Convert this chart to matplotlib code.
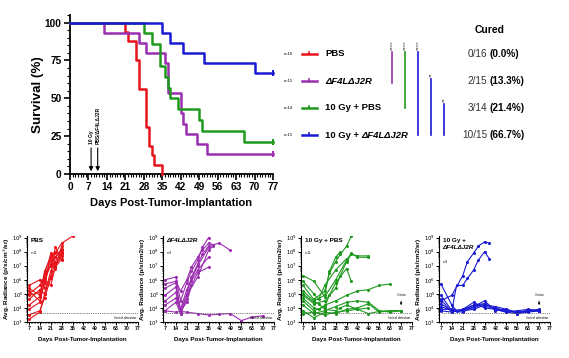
import numpy as np
import matplotlib.pyplot as plt
from matplotlib.ticker import MultipleLocator, FixedLocator, LogLocator, NullFormatter, FuncFormatter

plt.rcParams['font.family'] = ['Liberation Sans', 'DejaVu Sans']

# colours
red = '#e8141c'
purple = '#9a2fb0'
green = '#1f9a1f'
blue = '#1a1ad2'

# ---- survival data (days of death, % surviving after each event) ----
pbs_t = [21, 22, 25, 26, 29, 30, 31, 32, 35]
pbs_s = [93.75, 87.5, 75, 56.25, 31.25, 18.75, 12.5, 6.25, 0]
vv_t = [13, 26, 29, 36, 37, 42, 43, 44, 48, 52]
vv_s = [93.3, 86.7, 80, 73.3, 53.3, 40, 33.3, 26.7, 20, 13.3]
rt_t = [28, 31, 34, 36, 37, 38, 41, 49, 50, 66]
rt_s = [92.9, 85.7, 71.4, 64.3, 57.1, 50, 42.9, 35.7, 28.6, 21.4]
combo_t = [35, 38, 43, 51, 70]
combo_s = [93.3, 86.7, 80, 73.3, 66.7]

virus = 'ΔF4LΔJ2R'
group_prefix = ['PBS', '', '10 Gy + PBS', '10 Gy + ']
group_virus = ['', virus, '', virus]
group_n = [16, 15, 14, 15]
cured_frac = ['0/16', '2/15', '3/14', '10/15']
cured_pct = ['(0.0%)', '(13.3%)', '(21.4%)', '(66.7%)']
x_ticks = list(range(0, 78, 7))

# ---- tumour radiance (log10 p/s/cm2/sr) per mouse ----
pbs_days = [[7, 14, 21, 24, 28, 35], [7, 14, 17, 21, 24, 28], [7, 14, 17, 21, 24, 28],
            [7, 14, 17, 21, 24, 28], [7, 14, 17, 21, 24, 28], [7, 14, 17, 21, 24, 28],
            [7, 14, 17, 21, 24, 28], [7, 14, 17, 21, 24, 28], [7, 14, 17, 21, 24, 28],
            [7, 14, 17, 21, 24, 28]]
pbs_vals = [[5.0, 5.6, 7.0, 7.9, 8.6, 9.1], [4.2, 4.8, 6.4, 7.8, 7.6, 8.2], [3.2, 3.7, 5.0, 6.3, 7.3, 8.0],
            [5.2, 4.5, 5.9, 7.1, 8.3, 7.4], [4.6, 5.3, 5.0, 6.6, 7.6, 8.1], [5.6, 6.0, 5.4, 7.9, 7.0, 7.7],
            [3.9, 4.4, 5.8, 5.6, 7.0, 7.9], [4.9, 5.1, 6.1, 7.4, 6.8, 8.4], [3.5, 3.8, 4.7, 6.1, 6.9, 7.5],
            [5.4, 4.9, 6.6, 7.6, 8.0, 7.8]]

vv_days = [[7, 14, 17, 21, 24, 28, 31, 35], [7, 14, 17, 21, 24, 28, 31, 35, 38],
           [7, 14, 17, 21, 28, 35, 38, 42, 49], [7, 14, 17, 21, 24, 28, 31, 35],
           [7, 14, 17, 21, 24, 28, 35], [7, 14, 17, 21, 24, 28, 35], [7, 14, 17, 21, 28, 35, 38],
           [7, 14, 17, 21, 28, 35, 42, 49, 56, 63, 70]]
vv_vals = [[6.0, 6.2, 4.5, 5.8, 6.6, 7.4, 8.3, 9.0], [5.7, 5.9, 5.2, 6.0, 6.9, 7.6, 8.1, 8.6, 8.5],
           [5.4, 5.8, 3.9, 5.3, 7.0, 8.3, 8.5, 8.6, 8.1], [4.9, 5.5, 3.7, 5.0, 6.2, 7.1, 7.8, 8.4],
           [4.5, 5.1, 3.6, 4.6, 5.9, 6.7, 7.6], [4.2, 4.7, 3.8, 4.4, 5.6, 6.5, 6.9],
           [3.8, 4.4, 3.6, 4.9, 6.2, 8.1, 8.4],
           [3.8, 3.7, 3.75, 3.7, 3.6, 3.5, 3.55, 3.6, 3.1, 3.35, 3.45]]

rt_days = [[7, 14, 21, 24, 28, 31, 35, 38], [7, 14, 21, 24, 28, 31], [7, 14, 21, 28, 35, 38, 42, 49],
           [7, 14, 21, 28, 31, 35, 38, 42, 49], [7, 14, 21, 24, 28, 35, 38],
           [7, 14, 17, 21, 28, 35, 42, 49, 56, 63], [7, 14, 17, 21, 28, 31, 35, 42, 49],
           [7, 14, 21, 28, 35, 42, 49, 56, 63, 70], [7, 14, 21, 28, 35, 42, 49, 56, 63, 70],
           [7, 14, 17, 21, 28, 35], [7, 14, 21, 28, 35, 42, 49, 56, 63, 70]]
rt_vals = [[5.6, 4.6, 5.2, 6.5, 7.3, 7.8, 8.4, 9.1], [5.2, 4.5, 4.9, 6.6, 7.6, 8.0],
           [6.3, 5.9, 4.8, 6.0, 7.4, 7.9, 7.6, 7.6], [4.9, 4.3, 4.5, 5.4, 6.3, 7.3, 7.8, 7.7, 7.7],
           [4.5, 3.8, 4.1, 4.9, 5.8, 6.8, 5.9], [4.7, 4.0, 3.9, 4.2, 4.5, 4.9, 5.2, 5.3, 5.6, 5.7],
           [5.0, 4.4, 4.3, 3.9, 3.8, 4.0, 4.2, 3.9, 4.0], [4.2, 3.6, 3.8, 4.1, 4.4, 4.5, 4.4, 3.8, 3.7, 3.8],
           [3.8, 3.3, 3.7, 3.6, 3.9, 4.0, 4.3, 3.7, 3.8, 3.8], [5.9, 5.0, 4.6, 5.6, 6.7, 7.5],
           [3.6, 3.7, 3.5, 3.7, 3.8, 3.9, 3.6, 3.75, 3.8, 3.8]]

combo_days = [[7, 14, 21, 24, 28, 31, 35, 38], [7, 14, 17, 21, 24, 28, 31, 35, 38],
              [7, 14, 17, 21, 28, 35, 42, 49, 56, 63, 70], [7, 14, 21, 28, 35, 42, 49, 56, 63, 70],
              [7, 14, 21, 28, 35, 42, 49, 56, 63, 70], [7, 14, 21, 28, 35, 42, 49, 56, 63, 70],
              [7, 14, 21, 28, 35, 42, 49, 56, 63, 70], [7, 14, 21, 28, 35, 42, 49, 56, 63, 70]]
combo_vals = [[4.5, 4.9, 6.3, 7.3, 7.9, 8.4, 8.7, 8.6], [4.9, 3.8, 5.6, 5.6, 6.1, 6.7, 7.4, 8.0, 7.5],
              [5.7, 4.2, 3.8, 3.9, 4.2, 4.3, 3.9, 3.8, 3.7, 3.8, 3.8],
              [4.6, 3.7, 3.9, 4.4, 4.0, 3.9, 3.7, 3.6, 3.7, 3.8],
              [4.3, 3.8, 3.7, 4.1, 4.5, 3.8, 3.9, 3.7, 3.8, 3.9],
              [3.9, 3.9, 3.8, 4.2, 4.1, 4.0, 3.8, 3.7, 3.8, 3.8],
              [3.8, 3.7, 3.9, 4.0, 4.3, 3.9, 3.7, 3.8, 3.9, 3.8],
              [4.1, 3.8, 3.8, 3.9, 4.2, 4.1, 3.9, 3.6, 3.8, 3.8]]
limit_log = 3.65
panel_titles = ['PBS', '', '10 Gy + PBS', '10 Gy +']
panel_virus = ['', virus, '', virus]
panel_n = ['n=11', 'n=8', 'n=11', 'n=8']

W, H = 569, 358
fig = plt.figure(figsize=(W / 100, H / 100), dpi=100)

# overlay in pixel coords for legend / cured / stats
ov = fig.add_axes([0, 0, 1, 1])
ov.set_xlim(0, W)
ov.set_ylim(H, 0)
ov.axis('off')

# ---------------- survival plot ----------------
ax = fig.add_axes([70 / W, 1 - 174 / H, 203 / W, 159 / H])
colors = [red, purple, green, blue]
for t, s, c in zip([pbs_t, vv_t, rt_t, combo_t], [pbs_s, vv_s, rt_s, combo_s], colors):
    xs = [0] + t
    ys = [100] + s
    if s[-1] > 0:
        xs = xs + [77]
        ys = ys + [s[-1]]
    ax.step(xs, ys, where='post', color=c, lw=1.8, clip_on=False, zorder=3)
    if s[-1] > 0:
        ax.plot([77], [s[-1]], marker='|', ms=4, mew=1.5, color=c, clip_on=False, zorder=3)

ax.set_xlim(0, 77)
ax.set_ylim(0, 105)
ax.spines['top'].set_visible(False)
ax.spines['right'].set_visible(False)
for sp in ['left', 'bottom']:
    ax.spines[sp].set_linewidth(1.3)
ax.xaxis.set_major_locator(FixedLocator(x_ticks))
ax.xaxis.set_minor_locator(MultipleLocator(1))
ax.yaxis.set_major_locator(FixedLocator([0, 25, 50, 75, 100]))
ax.yaxis.set_minor_locator(MultipleLocator(5))
ax.tick_params(which='major', length=4, width=1.2, labelsize=7.3, pad=2)
ax.tick_params(which='minor', length=2, width=0.8)
for lab in ax.get_xticklabels() + ax.get_yticklabels():
    lab.set_fontweight('bold')
ax.set_xlabel('Days Post-Tumor-Implantation', fontsize=8, fontweight='bold', va='center')
ax.xaxis.set_label_coords(0.5, (174 - 203) / 159)
ax.set_ylabel('Survival (%)', fontsize=9.6, fontweight='bold', va='center')
ax.yaxis.set_label_coords((38 - 70) / 203, 0.5)

# treatment arrows
ax.annotate('', xy=(8, 0), xytext=(8, 19),
            arrowprops=dict(arrowstyle='-|>', color='black', lw=0.8, mutation_scale=6), zorder=4)
ax.annotate('', xy=(10.5, 0), xytext=(10.5, 19),
            arrowprops=dict(arrowstyle='-|>', color='black', lw=0.8, mutation_scale=6), zorder=4)
ax.text(8, 19.5, '10 Gy', rotation=90, ha='center', va='bottom', fontsize=3.6, fontweight='bold')
ax.text(10.5, 19.5, 'PBS/' + virus, rotation=90, ha='center', va='bottom',
        fontsize=3.6, fontweight='bold')

# legend
rows = [54, 81, 108, 135]
for y, c, pre, vir, n in zip(rows, colors, group_prefix, group_virus, group_n):
    ov.text(284, y, f'n={n}', fontsize=3, va='center', ha='left')
    ov.plot([302, 317], [y, y], color=c, lw=1.8)
    ov.plot([309.5, 309.5], [y - 2.5, y], color=c, lw=1.2)
    if pre:
        ov.text(325, y, pre, fontsize=6.8, fontweight='bold', va='center', ha='left')
    if vir:
        vx = 361.5 if pre else 325
        ov.text(vx, y, vir, fontsize=6.8, fontweight='bold', fontstyle='italic', va='center', ha='left')

# significance bars
bars = [(392, 52, 83, purple, '****'), (405, 52, 108, green, '****'), (418, 52, 135, blue, '****'),
        (431, 79, 135, blue, '**'), (444, 104, 135, blue, '**')]
for x, y0, y1, c, stars in bars:
    ov.plot([x, x], [y0, y1], color=c, lw=1.2)
    ov.text(x, y0 - 2, stars, rotation=90, fontsize=4.5, ha='center', va='bottom', color='#444444')

# cured column
ov.text(490, 30, 'Cured', fontsize=7.5, fontweight='bold', ha='center', va='center')
for y, f, p in zip(rows, cured_frac, cured_pct):
    ov.text(487.5, y, f, fontsize=7.2, ha='right', va='center', color='#333333')
    ov.text(489.5, y, p, fontsize=7.2, ha='left', va='center', fontweight='bold')

# ---------------- radiance panels ----------------
lefts = [27.4, 163.4, 301.4, 439.4]
all_days = [pbs_days, vv_days, rt_days, combo_days]
all_vals = [pbs_vals, vv_vals, rt_vals, combo_vals]
ylabels = [r'Avg. Radiance (p/s/cm$^2$/sr)', 'Avg. Radiance (p/s/cm2/sr)',
           'Avg. Radiance (p/s/cm2/sr)', 'Avg. Radiance (p/s/cm2/sr)']
for i in range(4):
    bx = fig.add_axes([lefts[i] / W, 1 - 322 / H, 110.6 / W, 86 / H])
    for d, v in zip(all_days[i], all_vals[i]):
        bx.plot(d, 10 ** np.array(v), color=colors[i], lw=0.8, marker='o', ms=1.2)
    bx.set_yscale('log')
    bx.set_xlim(6, 77)
    bx.set_ylim(1e3, 1.3e9)
    bx.axhline(10 ** limit_log, color='#555555', lw=0.6, ls=(0, (1, 1.2)), xmin=0.02, xmax=1)
    bx.text(76, 10 ** (limit_log - 0.25), 'limit of detection', fontsize=2.2, ha='right', va='top')
    ty = 10 ** 8.95
    if panel_titles[i]:
        bx.text(8, ty, panel_titles[i], fontsize=4.6, fontweight='bold', ha='left', va='top')
        ty = 10 ** 8.45
    if panel_virus[i]:
        bx.text(8, ty, panel_virus[i], fontsize=4.6, fontweight='bold', fontstyle='italic',
                ha='left', va='top')
    ny = 7.9 if i < 3 else 7.3
    bx.text(8, 10 ** ny, panel_n[i], fontsize=2.2, ha='left', va='center')
    if i >= 2:
        bx.annotate('', xy=(70, 10 ** 4.0), xytext=(70, 10 ** 4.7),
                    arrowprops=dict(arrowstyle='-|>', color='black', lw=0.5, mutation_scale=3))
        bx.text(70, 10 ** 4.8, '3 mice', fontsize=2.2, ha='center', va='bottom')
    bx.spines['top'].set_visible(False)
    bx.spines['right'].set_visible(False)
    for sp in ['left', 'bottom']:
        bx.spines[sp].set_linewidth(0.8)
    bx.xaxis.set_major_locator(FixedLocator(x_ticks[1:]))
    bx.xaxis.set_minor_locator(MultipleLocator(1))
    bx.yaxis.set_major_locator(LogLocator(base=10, numticks=10))
    bx.yaxis.set_minor_locator(LogLocator(base=10, subs=np.arange(2, 10), numticks=10))
    bx.yaxis.set_minor_formatter(NullFormatter())
    bx.yaxis.set_major_formatter(FuncFormatter(lambda v, p: r'$10^{%d}$' % round(np.log10(v))))
    bx.tick_params(which='major', length=2, width=0.7, labelsize=3.8, pad=1)
    bx.tick_params(which='minor', length=1, width=0.5)
    for lab in bx.get_xticklabels():
        lab.set_fontweight('bold')
    bx.set_xlabel('Days Post-Tumor-Implantation', fontsize=4.4, fontweight='bold', va='center')
    bx.xaxis.set_label_coords(0.5, (322 - 340) / 86)
    bx.set_ylabel(ylabels[i], fontsize=4.6, fontweight='bold', va='center')
    bx.yaxis.set_label_coords(-21.0 / 110.6, 0.5)

fig.savefig('out.png', dpi=100)
